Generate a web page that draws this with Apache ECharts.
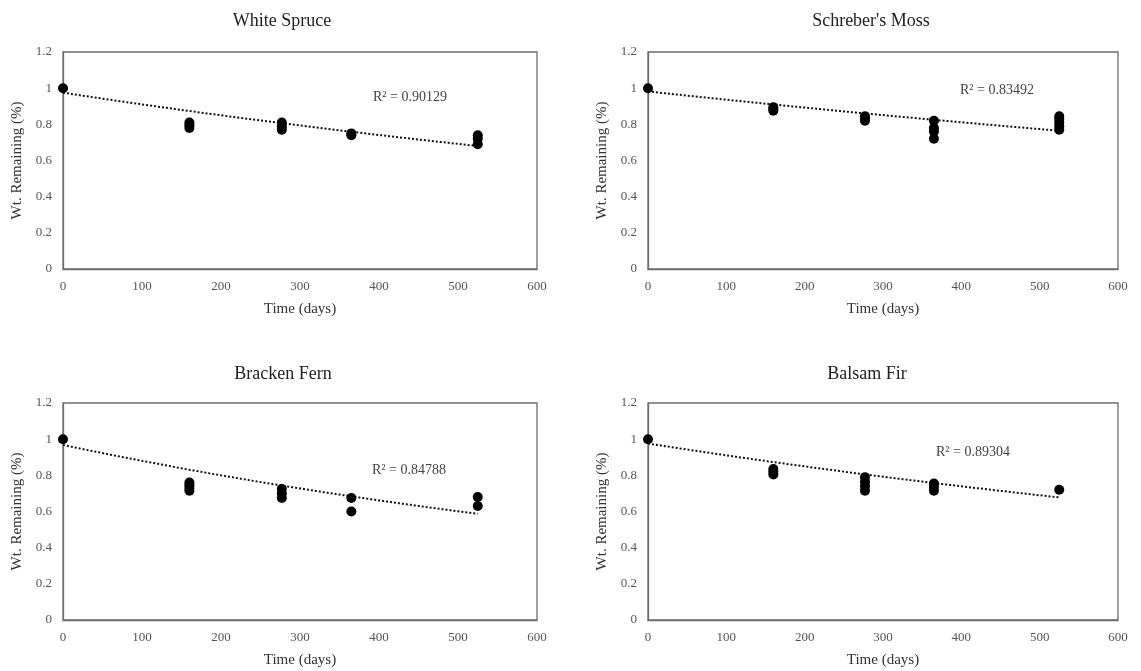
<!DOCTYPE html>
<html>
<head>
<meta charset="utf-8">
<script src="https://cdn.jsdelivr.net/npm/echarts@6/dist/echarts.min.js"></script>
<style>
  html, body { margin: 0; padding: 0; background: #fff; }
  #chart { width: 1141px; height: 671px; }
</style>
</head>
<body>
<div id="chart"></div>
<script>
// Litter-bag decomposition: fraction of initial dry weight remaining over time
const species = ["White Spruce", "Schreber's Moss", "Bracken Fern", "Balsam Fir"];
const sampleDays = [0, 160, 277, 365, 525];

// Weight remaining per sampling day (one inner list per day)
const whiteSpruce = [[1], [0.78, 0.795, 0.81], [0.77, 0.79, 0.81], [0.74, 0.75], [0.69, 0.72, 0.74]];
const schrebersMoss = [[1], [0.875, 0.885, 0.895], [0.82, 0.835, 0.845], [0.72, 0.76, 0.78, 0.82], [0.77, 0.79, 0.81, 0.83, 0.845]];
const brackenFern = [[1], [0.715, 0.73, 0.745, 0.76], [0.675, 0.70, 0.725], [0.60, 0.675], [0.63, 0.68]];
const balsamFir = [[1], [0.805, 0.82, 0.835], [0.715, 0.74, 0.765, 0.79], [0.715, 0.735, 0.755], [0.72]];

// Exponential trendline y = a * exp(-k * t), with its R² value
const trendA = [0.975, 0.982, 0.968, 0.976];
const trendK = [0.000686, 0.000477, 0.000952, 0.000694];
const rSquared = ["0.90129", "0.83492", "0.84788", "0.89304"];

const xTicks = [0, 100, 200, 300, 400, 500, 600];
const yTicks = [0, 0.2, 0.4, 0.6, 0.8, 1, 1.2];

const seriesValues = [whiteSpruce, schrebersMoss, brackenFern, balsamFir];

// Panel layout (pixels)
const grids = [
  { left: 63, top: 52, width: 474, height: 217 },
  { left: 648, top: 52, width: 470, height: 217 },
  { left: 63, top: 403, width: 474, height: 217 },
  { left: 648, top: 403, width: 470, height: 217 }
];
const titlePos = [[277, 7], [866, 7], [278, 360], [862, 360]];
const rPos = [[405, 85], [992, 78], [404, 458], [968, 440]];

const FONT = '"Liberation Serif", "Times New Roman", serif';

function points(values) {
  const out = [];
  values.forEach((group, i) => group.forEach(v => out.push([sampleDays[i], v])));
  return out;
}

function trendCurve(a, k) {
  const out = [];
  const last = sampleDays[sampleDays.length - 1];
  for (let t = 0; t <= last; t += 5) out.push([t, a * Math.exp(-k * t)]);
  return out;
}

const option = {
  animation: false,
  backgroundColor: '#fff',
  textStyle: { fontFamily: FONT },
  title: [],
  grid: [],
  xAxis: [],
  yAxis: [],
  series: []
};

species.forEach((name, i) => {
  option.title.push({
    text: name, left: titlePos[i][0], top: titlePos[i][1], textAlign: 'center',
    textStyle: { fontFamily: FONT, fontSize: 18, fontWeight: 'normal', color: '#222' }
  });
  option.title.push({
    text: 'R² = ' + rSquared[i], left: rPos[i][0], top: rPos[i][1], textAlign: 'center',
    textStyle: { fontFamily: FONT, fontSize: 14, fontWeight: 'normal', color: '#444' }
  });
  option.grid.push(Object.assign({
    show: true, borderColor: '#6e6e6e', borderWidth: 1.3, backgroundColor: '#fff'
  }, grids[i]));
  option.xAxis.push({
    type: 'value', gridIndex: i, min: xTicks[0], max: xTicks[xTicks.length - 1], interval: 100,
    name: 'Time (days)', nameLocation: 'middle', nameGap: 33,
    nameTextStyle: { fontFamily: FONT, fontSize: 15, color: '#333' },
    axisLine: { show: true, lineStyle: { color: '#6e6e6e', width: 1.3 } },
    axisTick: { show: false },
    splitLine: { show: false },
    axisLabel: { fontFamily: FONT, fontSize: 13, color: '#555', margin: 11 }
  });
  option.yAxis.push({
    type: 'value', gridIndex: i, min: yTicks[0], max: yTicks[yTicks.length - 1], interval: 0.2,
    name: 'Wt. Remaining (%)', nameLocation: 'middle', nameGap: 38, nameRotate: 90,
    nameTextStyle: { fontFamily: FONT, fontSize: 15, color: '#333' },
    axisLine: { show: true, lineStyle: { color: '#6e6e6e', width: 1.3 } },
    axisTick: { show: false },
    splitLine: { show: false },
    axisLabel: { fontFamily: FONT, fontSize: 13, color: '#555', margin: 11,
      formatter: v => String(Math.round(v * 10) / 10) }
  });
  option.series.push({
    type: 'line', xAxisIndex: i, yAxisIndex: i,
    data: trendCurve(trendA[i], trendK[i]),
    showSymbol: false, smooth: false, z: 2,
    lineStyle: { color: '#111', width: 2, type: [2, 2] }
  });
  option.series.push({
    type: 'scatter', xAxisIndex: i, yAxisIndex: i,
    data: points(seriesValues[i]),
    symbol: 'circle', symbolSize: 10, z: 3,
    itemStyle: { color: '#000', opacity: 1 }
  });
});

const chart = echarts.init(document.getElementById('chart'), null, { renderer: 'canvas' });
chart.setOption(option);
</script>
</body>
</html>
